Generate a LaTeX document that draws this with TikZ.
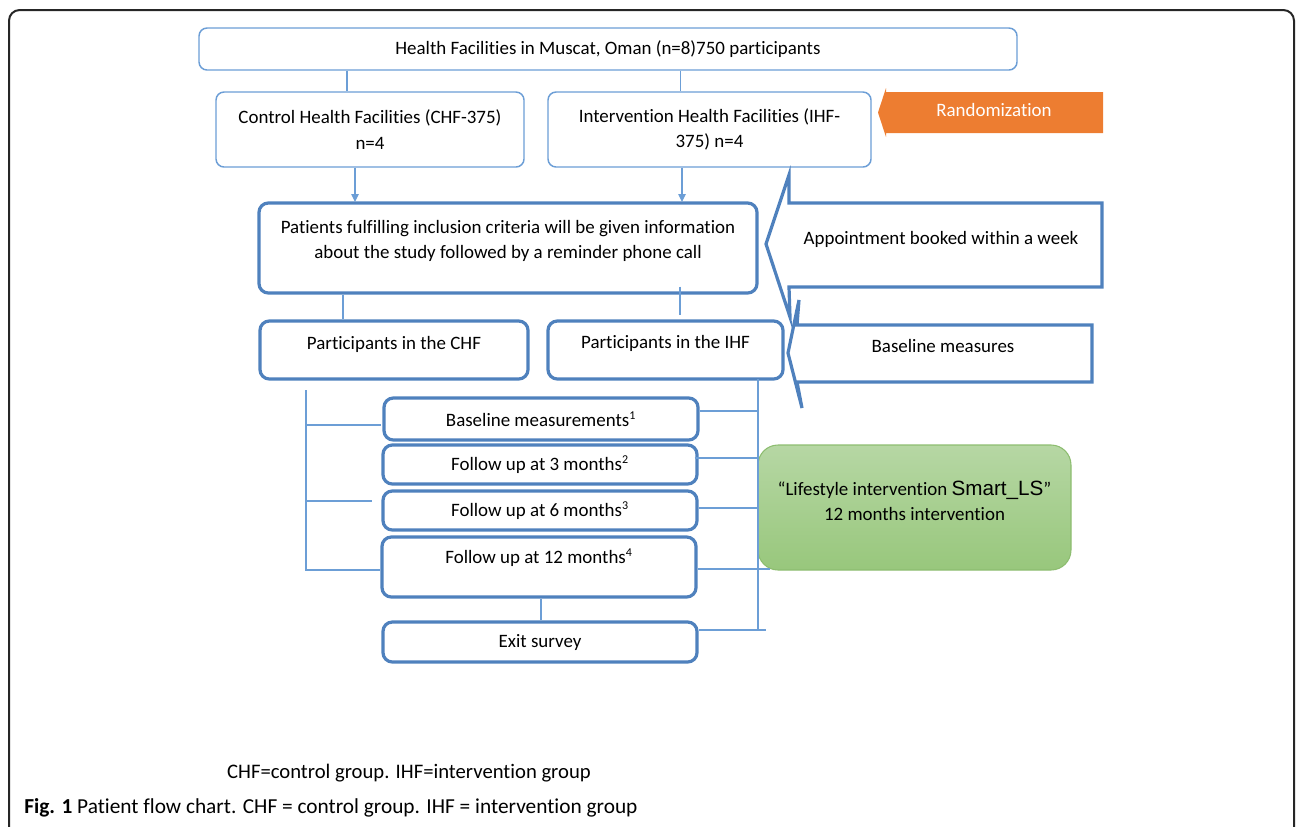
\documentclass[tikz,border=0pt]{standalone}
\usepackage{fontspec}
\setmainfont[Ligatures={NoCommon}]{Carlito}
\newfontfamily\arialfont{Liberation Sans}
\usetikzlibrary{arrows.meta}
\definecolor{thinblue}{HTML}{6C9ED6}
\definecolor{thickblue}{HTML}{4F81BD}
\definecolor{orangefill}{HTML}{ED7D31}
\definecolor{greentop}{HTML}{B6D7A4}
\definecolor{greenbot}{HTML}{98C77C}
\definecolor{greenline}{HTML}{8DBD70}
\def\P{0.75pt}
\def\mainfs{\fontsize{14.2}{19}\selectfont}
\tikzset{
  x=0.75pt, y=-0.75pt,
  txt/.style={font=\mainfs, align=center, inner sep=0pt},
  sz/.style 2 args={minimum width=#1*\P, minimum height=#2*\P},
  thinbox/.style={draw=thinblue, line width=1.1pt, rounded corners=6pt, fill=white, inner sep=0pt, align=center, font=\mainfs},
  thickbox/.style={draw=thickblue, line width=2.4pt, rounded corners=7pt, fill=white, inner sep=0pt, align=center, font=\mainfs},
  thinline/.style={draw=thinblue, line width=0.9pt},
  bigarrow/.style={draw=thickblue, line width=2.4pt, fill=white, line join=miter},
  arr/.style={thinline, -{Triangle[width=5.5pt,length=6pt]}, shorten >=-0.5pt},
}
\newcommand\supnum[1]{\textsuperscript{\fontsize{9}{9}\selectfont #1}}
\begin{document}
\begin{tikzpicture}
\useasboundingbox (0,0) rectangle (1296,826);
\begin{scope}
\clip (0,0) rectangle (1296,826);
\draw[line width=1.5pt, draw=black!85, rounded corners=8pt] (9,850) -- (9,10) -- (1294,10) -- (1294,850);
\end{scope}

% top level
\node[thinbox, sz={818}{42}] (top) at (608,49) {Health Facilities in Muscat, Oman (n=8)750 participants};
\node[thinbox, sz={308}{75}] (chf) at (370,129.5) {Control Health Facilities (CHF-375)\\n=4};
\node[thinbox, sz={323}{75}] (ihf) at (709.5,129.5) {Intervention Health Facilities (IHF-\\375) n=4};

% randomization arrow
\fill[orangefill] (1103,92) -- (886,92) -- (886,88) -- (878,112.5) -- (886,137) -- (886,133) -- (1103,133) -- cycle;
\node[txt, text=white] (rand) at (994,110) {Randomization};

% patients box
\node[thickbox, sz={498}{90}] (pat) at (508,248) {};
\node[txt] (pattxt) at (508,241) {Patients fulfilling inclusion criteria will be given information\\about the study followed by a reminder phone call};

% appointment arrow
\draw[bigarrow] (1102,203) -- (789,203) -- (789,175) -- (766,244) -- (790,317) -- (789,287) -- (1102,287) -- cycle;
\node[txt] (appt) at (941,239) {Appointment booked within a week};

% baseline measures arrow
\draw[bigarrow] (1092,325) -- (797,325) -- (799,300) -- (788,353) -- (802,408) -- (797,382) -- (1092,382) -- cycle;
\node[txt] (basem) at (943,346) {Baseline measures};

% participants
\node[thickbox, sz={268}{58}] (pchf) at (394,350) {};
\node[txt] at (394,344) {Participants in the CHF};
\node[thickbox, sz={235}{58}] (pihf) at (665.5,350) {};
\node[txt] at (665.5,343) {Participants in the IHF};

% stack
\node[thickbox, sz={314}{42}] (bm) at (541,419) {Baseline measurements\supnum{1}};
\node[thickbox, sz={314}{39}] (f3) at (540,464.5) {Follow up at 3 months\supnum{2}};
\node[thickbox, sz={314}{39}] (f6) at (540,510.5) {Follow up at 6 months\supnum{3}};
\node[thickbox, sz={314}{60}] (f12) at (539,567) {};
\node[txt] at (539,558) {Follow up at 12 months\supnum{4}};
\node[thickbox, sz={314}{40}] (exit) at (540,642) {Exit survey};

% green box
\node[draw=greenline, line width=0.8pt, top color=greentop, bottom color=greenbot, rounded corners=15pt, sz={313}{125}] (green) at (914.5,507.5) {};
\node[txt] (greentxt) at (914.5,501) {``Lifestyle intervention {\arialfont\fontsize{15.5}{19}\selectfont Smart\_LS}''\\12 months intervention};

% coordinates for connectors
\coordinate (xa) at (347,0);
\coordinate (xb) at (680.5,0);
\coordinate (xc) at (355,0);
\coordinate (xd) at (682,0);
\coordinate (xe) at (343,0);
\coordinate (xf) at (680,0);
\coordinate (xg) at (541,0);
\coordinate (L1) at (306,390);
\coordinate (L2) at (306,425);
\coordinate (L3) at (306,501);
\coordinate (L4) at (306,570);
\coordinate (R0) at (758,379);
\coordinate (R1) at (758,411);
\coordinate (R2) at (758,458);
\coordinate (R3) at (758,508);
\coordinate (R4) at (770,569);
\coordinate (R5) at (766,630);
\coordinate (Rb) at (758,630);

\draw[thinline] (top.south -| xa) -- (chf.north -| xa);
\draw[thinline] (top.south -| xb) -- (ihf.north -| xb);
\draw[arr] (chf.south -| xc) -- (pat.north -| xc);
\draw[arr] (ihf.south -| xd) -- (pat.north -| xd);
\draw[thinline] (pat.south -| xe) -- (pchf.north -| xe);
\draw[thinline] ([yshift=6pt]pat.south -| xf) -- ([yshift=3pt]pihf.north -| xf);
\draw[thinline] (f12.south -| xg) -- (exit.north -| xg);

% left bracket
\draw[thinline] (L1) -- (L4) -- (f12.west |- L4);
\draw[thinline] (L2) -- ([xshift=-1pt]bm.west |- L2);
\draw[thinline] (L3) -- ([xshift=-7pt]f6.west |- L3);

% right bracket
\draw[thinline] (R0) -- (Rb);
\draw[thinline] (bm.east |- R1) -- (R1);
\draw[thinline] ([xshift=-3pt]f3.east |- R2) -- (R2);
\draw[thinline] (f6.east |- R3) -- (R3);
\draw[thinline] (f12.east |- R4) -- (R4);
\draw[thinline] (exit.east |- R5) -- (R5);

% footer
\node[font=\fontsize{15.5}{19}\selectfont, inner sep=0pt] (note) at (409,773) {CHF=control group. IHF=intervention group};
\node[anchor=west, inner sep=0pt, font=\fontsize{16}{19}\selectfont] (cap) at (24,808) {\textbf{Fig. 1} Patient flow chart. CHF = control group. IHF = intervention group};
\end{tikzpicture}
\end{document}
